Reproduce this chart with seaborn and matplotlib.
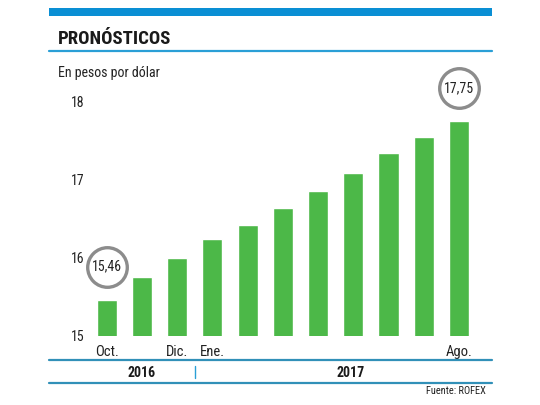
import matplotlib
matplotlib.use("Agg")
import matplotlib.pyplot as plt
from matplotlib import font_manager, transforms
from matplotlib.lines import Line2D
from matplotlib.patches import Rectangle
import seaborn as sns
import pandas as pd

# ---- data ----
months = ["Oct", "Nov", "Dic", "Ene", "Feb", "Mar", "Abr", "May", "Jun", "Jul", "Ago"]
values = [15.46, 15.75, 16.00, 16.24, 16.42, 16.64, 16.86, 17.09, 17.34, 17.55, 17.75]
tick_labels = ["Oct.", "", "Dic.", "Ene.", "", "", "", "", "", "", "Ago."]
y_ticks = [15, 16, 17, 18]
highlight = {0: "15,46", 10: "17,75"}
years = ["2016", "2017"]
title = "PRONÓSTICOS"
subtitle = "En pesos por dólar"
source = "Fuente: ROFEX"

sns.set_theme(style="white")
avail = {f.name for f in font_manager.fontManager.ttflist}
narrow = None
for cand in ["Liberation Sans Narrow", "Roboto Condensed", "Open Sans Condensed", "Roboto"]:
    if cand in avail:
        narrow = cand
        break
fam = [narrow, "DejaVu Sans"] if narrow else ["DejaVu Sans"]
plt.rcParams["font.family"] = fam

W, H = 540, 405
fig = plt.figure(figsize=(W / 100, H / 100), dpi=100)
fig.patch.set_facecolor("white")

def fx(x):
    return x / W

def fy(y):
    return 1 - y / H

left, right = 89.1, 476.6
bottom, top = 335.5, 78.3
ax = fig.add_axes([fx(left), fy(bottom), (right - left) / W, (bottom - top) / H])

df = pd.DataFrame({"mes": months, "valor": values})
sns.barplot(data=df, x="mes", y="valor", order=months, color="#4cb848",
            saturation=1, width=0.57, ax=ax)
ax.set_xlim(-0.5, 10.5)
ax.set_ylim(15, 18.3)
ax.set_xlabel("")
ax.set_ylabel("")
ax.set_yticks(y_ticks)
ax.set_yticklabels([str(t) for t in y_ticks], fontsize=10, color="#222222")
ax.set_xticks(range(len(months)))
ax.set_xticklabels(tick_labels, fontsize=10.5, color="#222222")
ax.tick_params(axis="both", length=0)
ax.tick_params(axis="y", pad=3.5)
ax.tick_params(axis="x", pad=7)
for s in ax.spines.values():
    s.set_visible(False)
ax.grid(False)

off = transforms.offset_copy(ax.transData, fig=fig, x=0, y=33, units="dots")
for i, lab in highlight.items():
    ax.plot([i], [values[i]], marker="o", markersize=28.5, markerfacecolor="white",
            markeredgecolor="#8c8c8c", markeredgewidth=2.4, transform=off, clip_on=False,
            zorder=5)
    ax.text(i, values[i], lab, transform=off, ha="center", va="center", fontsize=10,
            color="#222222", zorder=6, clip_on=False)

fig.add_artist(Rectangle((fx(49), fy(16)), fx(492) - fx(49), (16 - 8) / H,
                         transform=fig.transFigure, color="#0a8fd4", lw=0))
fig.add_artist(Line2D([fx(49), fx(492)], [fy(51), fy(51)], transform=fig.transFigure,
                      color="#2a9fd6", lw=1.6))
for yy in (360, 383):
    fig.add_artist(Line2D([fx(49), fx(492)], [fy(yy), fy(yy)], transform=fig.transFigure,
                          color="#3190b8", lw=1.6))
fig.add_artist(Line2D([fx(195), fx(195)], [fy(366), fy(378)], transform=fig.transFigure,
                      color="#2a9fd6", lw=1.0))

fig.text(fx(58), fy(39), title, ha="left", va="center", fontsize=13.5,
         fontweight="bold", color="#1a1a1a")
fig.text(fx(58), fy(73), subtitle, ha="left", va="center", fontsize=10, color="#222222")
fig.text(fx(142), fy(373), years[0], ha="center", va="center", fontsize=10,
         fontweight="bold", color="#1a1a1a")
fig.text(fx(351), fy(373), years[1], ha="center", va="center", fontsize=10,
         fontweight="bold", color="#1a1a1a")
fig.text(fx(486), fy(391), source, ha="right", va="center", fontsize=7.5, color="#222222")

fig.savefig("out.png", dpi=100, facecolor="white")
